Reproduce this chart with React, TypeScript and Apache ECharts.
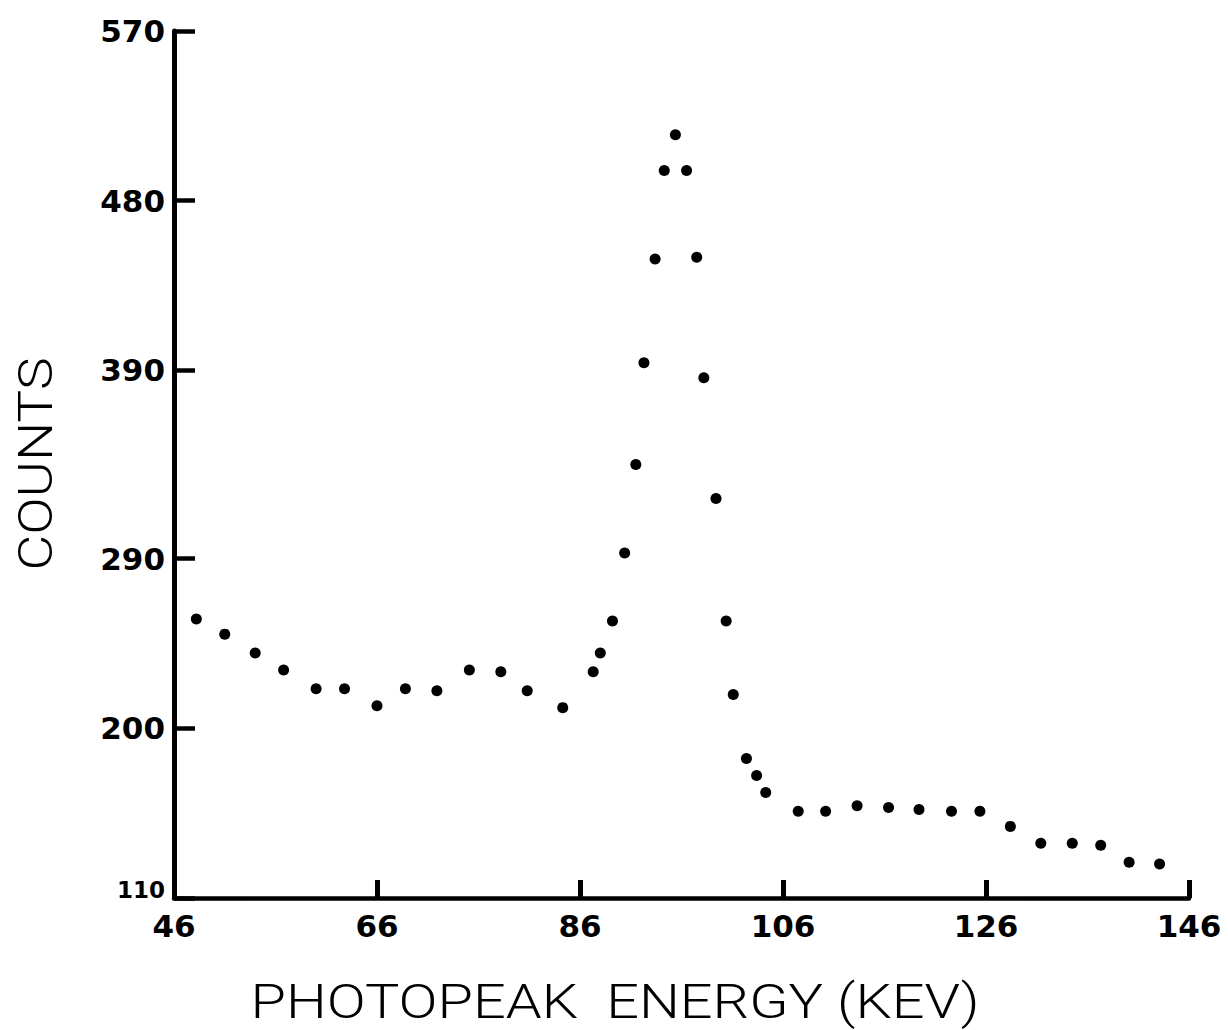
import React, { useEffect, useRef } from "react";
import * as echarts from "echarts";

// Photopeak energy (keV) of each measured point
const energyKeV = [
  48.2, 51.0, 54.0, 56.8, 60.0, 62.8, 66.0, 68.8, 71.9, 75.1,
  78.2, 80.8, 84.3, 87.3, 88.0, 89.2, 90.4, 91.5, 92.3, 93.4,
  94.3, 95.4, 96.5, 97.5, 98.2, 99.4, 100.4, 101.1, 102.4, 103.4,
  104.3, 107.5, 110.2, 113.3, 116.4, 119.4, 122.6, 125.4, 128.4, 131.4,
  134.5, 137.3, 140.1, 143.1,
];
// Counts for each point
const counts = [
  258, 250, 240, 231, 221, 221, 212, 221, 220, 231,
  230, 220, 211, 230, 240, 257, 293, 340, 394, 449,
  496, 515, 496, 450, 386, 322, 257, 218, 184, 175,
  166, 156, 156, 159, 158, 157, 156, 156, 148, 139,
  139, 138, 129, 128,
];
const xTicks = [46, 66, 86, 106, 126, 146];
const yTicks = [110, 200, 290, 390, 480, 570];
const xTitle = "PHOTOPEAK  ENERGY (KEV)";
const yTitle = "COUNTS";

export default function App() {
  const ref = useRef<HTMLDivElement>(null);
  useEffect(() => {
    if (!ref.current) return;
    const chart = echarts.init(ref.current, null, { renderer: "svg" });
    const labelFont = {
      fontFamily: "DejaVu Sans",
      fontWeight: "bold" as const,
      color: "#000",
    };
    const titleStyle = {
      fill: "#000",
      fontFamily: "Roboto",
      fontWeight: 300,
      fontSize: 48,
      align: "center",
      verticalAlign: "middle",
    };
    chart.setOption({
      animation: false,
      backgroundColor: "#fff",
      grid: { left: 174, right: 39, top: 31, bottom: 132, containLabel: false },
      xAxis: {
        type: "value",
        min: xTicks[0],
        max: xTicks[xTicks.length - 1],
        splitLine: { show: false },
        axisLine: { show: true, onZero: false, lineStyle: { color: "#000", width: 4.5 } },
        axisTick: {
          show: true,
          inside: true,
          length: 18,
          customValues: xTicks,
          lineStyle: { color: "#000", width: 5 },
        },
        axisLabel: {
          ...labelFont,
          fontSize: 31,
          margin: 12,
          customValues: xTicks,
          formatter: (v: number) => String(v),
        },
      },
      yAxis: {
        type: "value",
        min: yTicks[0],
        max: yTicks[yTicks.length - 1],
        splitLine: { show: false },
        axisLine: { show: true, onZero: false, lineStyle: { color: "#000", width: 5 } },
        axisTick: {
          show: true,
          inside: true,
          length: 21,
          customValues: yTicks,
          lineStyle: { color: "#000", width: 4.5 },
        },
        axisLabel: {
          ...labelFont,
          fontSize: 31,
          margin: 9,
          customValues: yTicks,
          formatter: (v: number) =>
            v === yTicks[0] ? `{small|${v}}` : String(v),
          rich: {
            small: {
              fontFamily: "DejaVu Sans",
              fontWeight: "bold",
              fontSize: 23,
              color: "#000",
              padding: [0, 0, 16, 0],
            },
          },
        },
      },
      graphic: [
        {
          type: "text",
          x: 615,
          y: 1002,
          scaleX: 1.2,
          style: { ...titleStyle, text: xTitle },
        },
        {
          type: "text",
          x: 36,
          y: 464,
          rotation: Math.PI / 2,
          scaleX: 1.15,
          style: { ...titleStyle, text: yTitle },
        },
      ],
      series: [
        {
          type: "scatter",
          symbol: "circle",
          symbolSize: 11,
          itemStyle: { color: "#000", opacity: 1 },
          data: energyKeV.map((e, i) => [e, counts[i]]),
        },
      ],
    });
    return () => chart.dispose();
  }, []);
  return (
    <div
      ref={ref}
      style={{ position: "absolute", left: 0, top: 0, width: 1228, height: 1030, background: "#fff" }}
    />
  );
}
